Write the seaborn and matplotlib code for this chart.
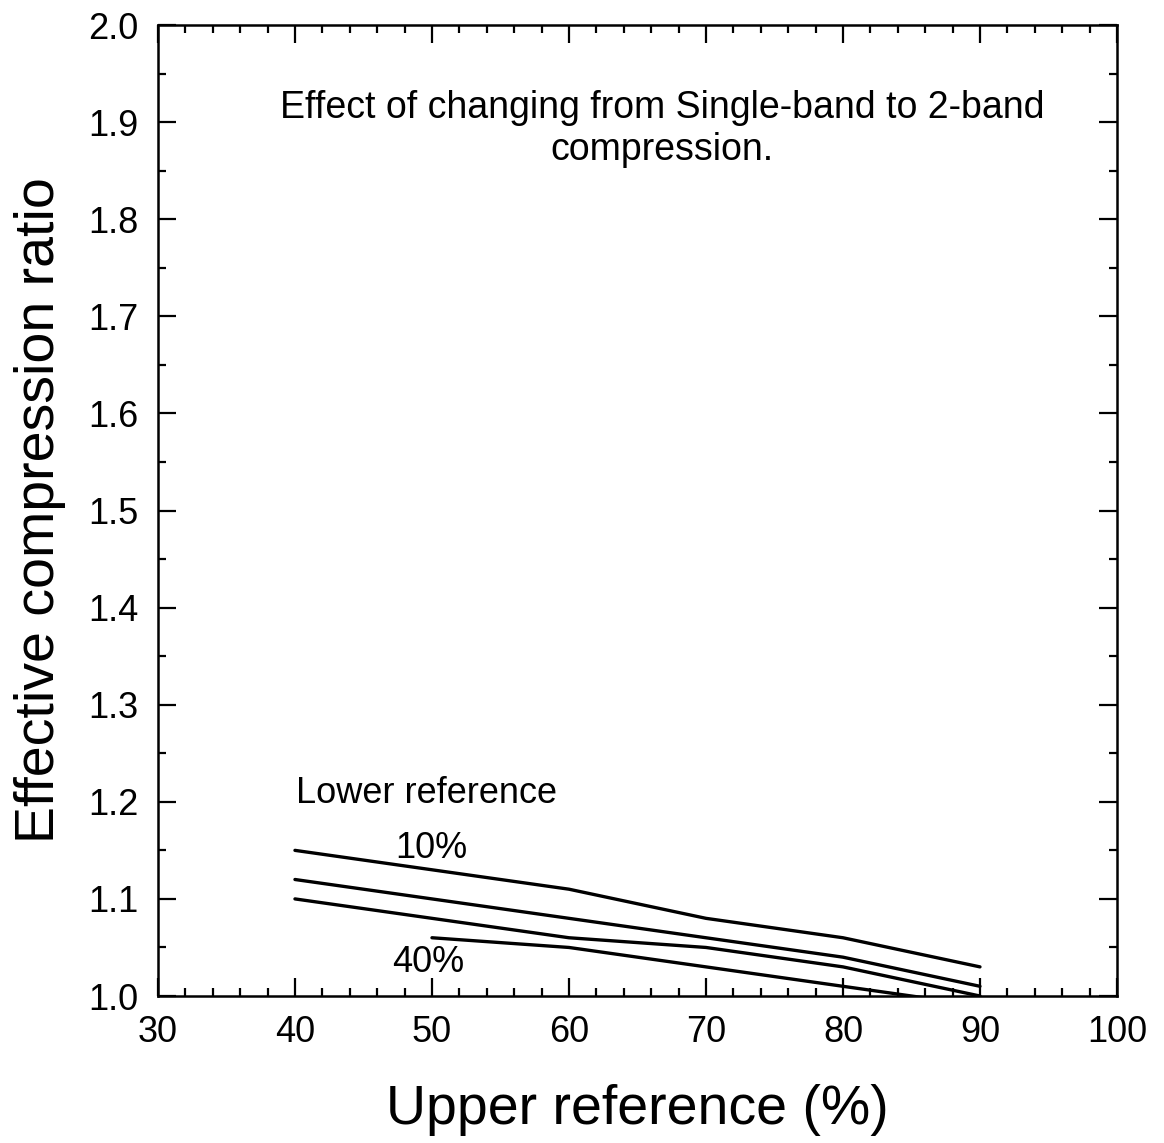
import matplotlib
matplotlib.use("Agg")
import matplotlib.pyplot as plt
import seaborn as sns
import pandas as pd
from matplotlib.ticker import MultipleLocator, FormatStrFormatter

# Upper reference (%) on the x axis
upper_ref = [40, 50, 60, 70, 80, 90]
upper_ref_40 = [50, 60, 70, 80, 90]

# Effective compression ratio for each lower reference setting
ratio_10 = [1.15, 1.13, 1.11, 1.08, 1.06, 1.03]
ratio_20 = [1.12, 1.10, 1.08, 1.06, 1.04, 1.01]
ratio_30 = [1.10, 1.08, 1.06, 1.05, 1.03, 1.00]
ratio_40 = [1.06, 1.05, 1.03, 1.01, 0.99]

series_names = ["10%", "20%", "30%", "40%"]
series_x = [upper_ref, upper_ref, upper_ref, upper_ref_40]
series_y = [ratio_10, ratio_20, ratio_30, ratio_40]

rows = []
for name, xs, ys in zip(series_names, series_x, series_y):
    for x, y in zip(xs, ys):
        rows.append({"upper": x, "ratio": y, "lower": name})
df = pd.DataFrame(rows)

sns.set_theme(style="ticks", rc={
    "text.color": "black", "axes.labelcolor": "black",
    "xtick.color": "black", "ytick.color": "black",
    "axes.edgecolor": "black",
})
plt.rcParams["font.family"] = ["Liberation Sans", "DejaVu Sans"]

fig = plt.figure(figsize=(11.64, 11.43), dpi=100)
ax = fig.add_axes([0.1357, 0.1286, 0.8239, 0.8495])

sns.lineplot(data=df, x="upper", y="ratio", units="lower", estimator=None,
             color="black", linewidth=2.4, ax=ax, legend=False)

ax.set_xlim(30, 100)
ax.set_ylim(1.0, 2.0)
ax.xaxis.set_major_locator(MultipleLocator(10))
ax.xaxis.set_minor_locator(MultipleLocator(2))
ax.yaxis.set_major_locator(MultipleLocator(0.1))
ax.yaxis.set_minor_locator(MultipleLocator(0.05))
ax.yaxis.set_major_formatter(FormatStrFormatter("%.1f"))

ax.tick_params(which="both", direction="in", top=True, right=True,
               width=1.6, color="black")
ax.tick_params(which="major", length=13, labelsize=26, pad=14)
ax.tick_params(which="minor", length=6)
for s in ax.spines.values():
    s.set_linewidth(1.8)
    s.set_color("black")

ax.set_xlabel("Upper reference (%)", fontsize=40, labelpad=24)
ax.set_ylabel("Effective compression ratio", fontsize=40, labelpad=16)

ax.text(66.8, 1.893, "Effect of changing from Single-band to 2-band\ncompression.",
        ha="center", va="center", fontsize=27, linespacing=1.2)
ax.text(40.1, 1.209, "Lower reference", ha="left", va="center", fontsize=26)
ax.text(47.3, 1.152, "10%", ha="left", va="center", fontsize=26)
ax.text(47.1, 1.035, "40%", ha="left", va="center", fontsize=26)

fig.savefig("out.png", dpi=100, facecolor="white")
